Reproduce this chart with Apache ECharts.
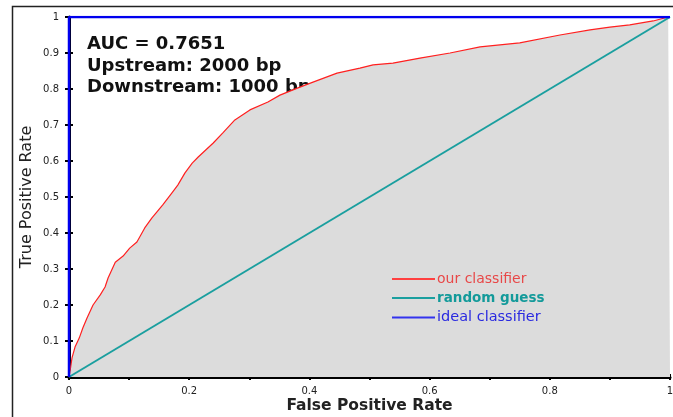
<!DOCTYPE html>
<html><head><meta charset="utf-8">
<script src="https://cdn.jsdelivr.net/npm/echarts@6/dist/echarts.min.js"></script>
<style>html,body{margin:0;padding:0;background:#fff}#c{width:673px;height:417px}</style>
</head><body><div id="c"></div>
<script>
const rocFpr = [0,0.002,0.005,0.010,0.017,0.023,0.030,0.040,0.052,0.060,0.065,0.077,0.090,0.101,0.113,0.126,0.138,0.146,0.156,0.171,0.181,0.193,0.205,0.215,0.240,0.256,0.276,0.301,0.331,0.351,0.381,0.406,0.446,0.484,0.506,0.539,0.584,0.634,0.684,0.750,0.817,0.867,0.900,0.933,0.972,0.997,1];
const rocTpr = [0,0.019,0.053,0.083,0.108,0.136,0.164,0.200,0.228,0.250,0.275,0.319,0.336,0.358,0.375,0.414,0.442,0.458,0.478,0.511,0.533,0.567,0.594,0.611,0.650,0.678,0.714,0.742,0.764,0.783,0.803,0.819,0.844,0.858,0.867,0.872,0.886,0.900,0.917,0.928,0.950,0.964,0.972,0.978,0.989,1.0,1];
const randomFpr = [0,1];
const randomTpr = [0,1];
const idealFpr = [0,0,1];
const idealTpr = [0,1,1];
const seriesNames = ['our classifier','random guess','ideal classifier'];
const annotation = ['AUC = 0.7651','Upstream: 2000 bp','Downstream: 1000 bp'];
const xLabel = 'False Positive Rate';
const yLabel = 'True Positive Rate';

const zip = (a,b)=>a.map((v,i)=>[v,b[i]]);
const chart = echarts.init(document.getElementById('c'));
const tickLabel = {fontFamily:'DejaVu Sans', fontSize:10, color:'#222'};
chart.setOption({
  animation:false,
  grid:{left:69, top:17, right:3, bottom:40, outerBoundsMode:'none', containLabel:false},
  xAxis:[{
    type:'value', min:0, max:1, interval:0.1,
    axisLine:{show:true, lineStyle:{color:'#000', width:3}},
    axisTick:{show:true, inside:true, length:3, lineStyle:{color:'#000', width:2}},
    axisLabel:Object.assign({margin:9, formatter:v=>{const r=Math.round(v*10);return r%2===0?(r===0?'0':r===10?'1':(v.toFixed(1))):'';}}, tickLabel),
    splitLine:{show:false},
    name:xLabel, nameLocation:'middle', nameGap:21, nameMoveOverlap:false,
    nameTextStyle:{fontFamily:'DejaVu Sans', fontSize:15.5, color:'#222', fontWeight:'bold'}
  },{
    type:'value', min:0, max:1, interval:0.1, position:'top',
    axisLine:{show:false},
    axisTick:{show:true, inside:true, length:3, lineStyle:{color:'#000', width:2}},
    axisLabel:{show:false}, splitLine:{show:false}
  }],
  yAxis:[{
    type:'value', min:0, max:1, interval:0.1,
    axisLine:{show:false},
    axisTick:{show:true, inside:true, length:4, lineStyle:{color:'#000', width:2}},
    axisLabel:Object.assign({margin:10, formatter:v=>v===0?'0':v===1?'1':v.toFixed(1)}, tickLabel),
    splitLine:{show:false},
    name:yLabel, nameLocation:'middle', nameGap:34, nameMoveOverlap:false,
    nameTextStyle:{fontFamily:'DejaVu Sans', fontSize:16, color:'#222'}
  },{
    type:'value', min:0, max:1, interval:0.1, position:'right',
    axisLine:{show:true, lineStyle:{color:'#000', width:3}},
    axisTick:{show:true, inside:true, length:4, lineStyle:{color:'#000', width:2}},
    axisLabel:{show:false}, splitLine:{show:false}
  }],
  legend:{
    orient:'vertical', left:387, top:267, itemGap:5, itemWidth:43, itemHeight:2,
    icon:'rect', textStyle:{padding:[0,0,0,-3]},
    data:[
      {name:seriesNames[0], textStyle:{color:'#e84848', fontFamily:'DejaVu Sans', fontSize:14}},
      {name:seriesNames[1], textStyle:{color:'#139a9a', fontFamily:'DejaVu Sans', fontSize:13.5, fontWeight:'bold'}},
      {name:seriesNames[2], textStyle:{color:'#2a2ae0', fontFamily:'DejaVu Sans', fontSize:14.5}}
    ]
  },
  series:[
    {name:seriesNames[0], type:'line', data:zip(rocFpr,rocTpr), showSymbol:false, symbol:'none',
     lineStyle:{color:'#ff2020', width:1.2}, itemStyle:{color:'#ff4040'},
     areaStyle:{color:'#dcdcdc', opacity:1}, z:2},
    {name:seriesNames[1], type:'line', data:zip(randomFpr,randomTpr), showSymbol:false, symbol:'none',
     lineStyle:{color:'#1a9f9f', width:2}, itemStyle:{color:'#1a9f9f'}, z:3},
    {name:seriesNames[2], type:'line', data:zip(idealFpr,idealTpr), showSymbol:false, symbol:'none',
     lineStyle:{color:'#0000ee', width:2.5}, itemStyle:{color:'#3333ee'}, z:4}
  ],
  graphic:[
    {type:'rect', left:10, top:4, shape:{width:700, height:460}, style:{fill:'none', stroke:'#222', lineWidth:1.5}, silent:true},
    {type:'text', left:87, top:34, style:{text:annotation.join('\n'), fontFamily:'DejaVu Sans', fontWeight:'bold', fontSize:18, lineHeight:21.5, fill:'#111'}}
  ]
});
</script></body></html>
